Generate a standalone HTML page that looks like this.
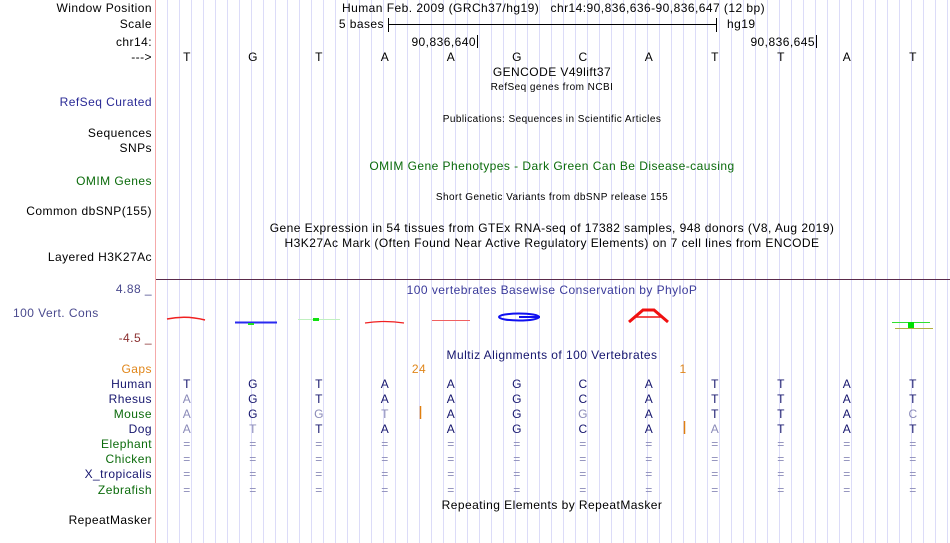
<!DOCTYPE html>
<html><head><meta charset="utf-8"><style>
html,body{margin:0;padding:0;background:#fff}
#c{position:relative;width:950px;height:543px;overflow:hidden;font-family:"Liberation Sans",sans-serif;font-size:12px;letter-spacing:0.45px;color:#000;
background:repeating-linear-gradient(90deg,transparent 0,transparent 11px,#dcdcf8 11px,#dcdcf8 12px);background-position:156px 0}
#lab{position:absolute;left:0;top:0;width:155px;height:543px;background:#fff;border-right:1px solid #f5aaaa}
.t{position:absolute;white-space:nowrap;line-height:14px}
.r{position:absolute;right:798px;white-space:nowrap;line-height:14px;text-align:right}
.c{position:absolute;white-space:nowrap;line-height:14px;transform:translateX(-50%)}
.s{font-size:10px}
.nv{color:#16166e}.gr{color:#0b6b0b}.lt{color:#8a8ab8}.bl{color:#2a2a96}
</style></head><body><div id="c">
<div id="lab"></div>
<div class="r" style="top:1px">Window Position</div>
<div class="r" style="top:17px">Scale</div>
<div class="r" style="top:35px">chr14:</div>
<div class="r" style="top:50px">---&gt;</div>
<div class="r bl" style="top:95px">RefSeq Curated</div>
<div class="r" style="top:126px">Sequences</div>
<div class="r" style="top:141px">SNPs</div>
<div class="r gr" style="top:174px">OMIM Genes</div>
<div class="r" style="top:204px">Common dbSNP(155)</div>
<div class="r" style="top:250px">Layered H3K27Ac</div>
<div class="t" style="left:13px;top:306px;color:#4a4a8e">100 Vert. Cons</div>
<div class="r" style="top:282px;color:#4a4a8e">4.88 _</div>
<div class="r" style="top:331px;color:#8b3030">-4.5 _</div>
<div class="r" style="top:362px;color:#e0861a">Gaps</div>
<div class="r nv" style="top:377px">Human</div>
<div class="r nv" style="top:392px">Rhesus</div>
<div class="r gr" style="top:407px">Mouse</div>
<div class="r nv" style="top:422px">Dog</div>
<div class="r gr" style="top:437px">Elephant</div>
<div class="r gr" style="top:452px">Chicken</div>
<div class="r nv" style="top:467px">X_tropicalis</div>
<div class="r gr" style="top:483px">Zebrafish</div>
<div class="r" style="top:513px">RepeatMasker</div>

<div class="t" style="left:342px;top:1px">Human Feb. 2009 (GRCh37/hg19) &nbsp;&nbsp;chr14:90,836,636-90,836,647 (12 bp)</div>
<div class="t" style="right:566px;top:17px">5 bases</div>
<div class="t" style="left:727px;top:17px">hg19</div>
<div class="t" style="right:474px;top:35px">90,836,640</div>
<div class="t" style="right:135px;top:35px">90,836,645</div>
<svg style="position:absolute;left:0;top:0" width="950" height="543">
<line x1="388" y1="24.5" x2="717" y2="24.5" stroke="#000"/>
<line x1="388.5" y1="18" x2="388.5" y2="32" stroke="#000"/>
<line x1="716.5" y1="18" x2="716.5" y2="32" stroke="#000"/>
<line x1="477.5" y1="35" x2="477.5" y2="48" stroke="#000"/>
<line x1="816.5" y1="35" x2="816.5" y2="48" stroke="#000"/>
<line x1="156" y1="279.5" x2="950" y2="279.5" stroke="#5a2a4a"/>
<path d="M167 319 Q186 315 205 320" stroke="#f02020" stroke-width="1.5" fill="none"/>
<line x1="235" y1="322.5" x2="277" y2="322.5" stroke="#2a2af0" stroke-width="2"/>
<rect x="248" y="323" width="6" height="2" fill="#20e020"/>
<line x1="298" y1="319.5" x2="340" y2="319.5" stroke="#c0f0c0" stroke-width="1"/>
<rect x="313" y="318" width="6" height="3" fill="#10e010"/>
<path d="M365 323 Q384 320 404 323" stroke="#f02020" stroke-width="1.2" fill="none"/>
<line x1="432" y1="320.5" x2="470" y2="320.5" stroke="#f06060" stroke-width="1"/>
<ellipse cx="519" cy="317" rx="20" ry="3.5" stroke="#1010f0" stroke-width="2" fill="none"/>
<line x1="519" y1="317" x2="540" y2="317" stroke="#1010f0" stroke-width="2"/>
<path d="M629 322 L643 310 L654 310 L668 322" stroke="#f01010" stroke-width="3" fill="none"/>
<line x1="636" y1="317" x2="661" y2="317" stroke="#f01010" stroke-width="1.5"/>
<line x1="892" y1="322.5" x2="930" y2="322.5" stroke="#30e030" stroke-width="1"/>
<rect x="908" y="322" width="6" height="6" fill="#00e000"/>
<line x1="895" y1="328.5" x2="933" y2="328.5" stroke="#b0b040" stroke-width="1"/>
<line x1="420.5" y1="406" x2="420.5" y2="419" stroke="#e08010" stroke-width="1.5"/>
<line x1="684.5" y1="421" x2="684.5" y2="434" stroke="#e08010" stroke-width="1.5"/>
</svg>
<div class="c" style="left:552px;top:65px">GENCODE V49lift37</div>
<div class="c s" style="left:552px;top:81px">RefSeq genes from NCBI</div>
<div class="c s" style="left:552px;top:113px">Publications: Sequences in Scientific Articles</div>
<div class="c gr" style="left:552px;top:159px">OMIM Gene Phenotypes - Dark Green Can Be Disease-causing</div>
<div class="c s" style="left:552px;top:191px">Short Genetic Variants from dbSNP release 155</div>
<div class="c" style="left:552px;top:221px">Gene Expression in 54 tissues from GTEx RNA-seq of 17382 samples, 948 donors (V8, Aug 2019)</div>
<div class="c" style="left:552px;top:236px">H3K27Ac Mark (Often Found Near Active Regulatory Elements) on 7 cell lines from ENCODE</div>
<div class="c" style="left:552px;top:283px;color:#3a3a9a">100 vertebrates Basewise Conservation by PhyloP</div>
<div class="c nv" style="left:552px;top:348px">Multiz Alignments of 100 Vertebrates</div>
<div class="c" style="left:419px;top:362px;color:#e0861a">24</div>
<div class="c" style="left:683px;top:362px;color:#e0861a">1</div>
<div class="c" style="left:552px;top:498px">Repeating Elements by RepeatMasker</div>

<div class="c" style="left:187px;top:50px">T</div><div class="c" style="left:253px;top:50px">G</div><div class="c" style="left:319px;top:50px">T</div><div class="c" style="left:385px;top:50px">A</div><div class="c" style="left:451px;top:50px">A</div><div class="c" style="left:517px;top:50px">G</div><div class="c" style="left:583px;top:50px">C</div><div class="c" style="left:649px;top:50px">A</div><div class="c" style="left:715px;top:50px">T</div><div class="c" style="left:781px;top:50px">T</div><div class="c" style="left:847px;top:50px">A</div><div class="c" style="left:913px;top:50px">T</div>

<div class="c nv" style="left:187px;top:377px">T</div><div class="c nv" style="left:253px;top:377px">G</div><div class="c nv" style="left:319px;top:377px">T</div><div class="c nv" style="left:385px;top:377px">A</div><div class="c nv" style="left:451px;top:377px">A</div><div class="c nv" style="left:517px;top:377px">G</div><div class="c nv" style="left:583px;top:377px">C</div><div class="c nv" style="left:649px;top:377px">A</div><div class="c nv" style="left:715px;top:377px">T</div><div class="c nv" style="left:781px;top:377px">T</div><div class="c nv" style="left:847px;top:377px">A</div><div class="c nv" style="left:913px;top:377px">T</div>

<div class="c lt" style="left:187px;top:392px">A</div><div class="c nv" style="left:253px;top:392px">G</div><div class="c nv" style="left:319px;top:392px">T</div><div class="c nv" style="left:385px;top:392px">A</div><div class="c nv" style="left:451px;top:392px">A</div><div class="c nv" style="left:517px;top:392px">G</div><div class="c nv" style="left:583px;top:392px">C</div><div class="c nv" style="left:649px;top:392px">A</div><div class="c nv" style="left:715px;top:392px">T</div><div class="c nv" style="left:781px;top:392px">T</div><div class="c nv" style="left:847px;top:392px">A</div><div class="c nv" style="left:913px;top:392px">T</div>

<div class="c lt" style="left:187px;top:407px">A</div><div class="c nv" style="left:253px;top:407px">G</div><div class="c lt" style="left:319px;top:407px">G</div><div class="c lt" style="left:385px;top:407px">T</div><div class="c nv" style="left:451px;top:407px">A</div><div class="c nv" style="left:517px;top:407px">G</div><div class="c lt" style="left:583px;top:407px">G</div><div class="c nv" style="left:649px;top:407px">A</div><div class="c nv" style="left:715px;top:407px">T</div><div class="c nv" style="left:781px;top:407px">T</div><div class="c nv" style="left:847px;top:407px">A</div><div class="c lt" style="left:913px;top:407px">C</div>

<div class="c lt" style="left:187px;top:422px">A</div><div class="c lt" style="left:253px;top:422px">T</div><div class="c nv" style="left:319px;top:422px">T</div><div class="c nv" style="left:385px;top:422px">A</div><div class="c nv" style="left:451px;top:422px">A</div><div class="c nv" style="left:517px;top:422px">G</div><div class="c nv" style="left:583px;top:422px">C</div><div class="c nv" style="left:649px;top:422px">A</div><div class="c lt" style="left:715px;top:422px">A</div><div class="c nv" style="left:781px;top:422px">T</div><div class="c nv" style="left:847px;top:422px">A</div><div class="c nv" style="left:913px;top:422px">T</div>

<div style="position:absolute;left:0;top:437px">
<div class="c lt" style="left:187px;top:0">=</div><div class="c lt" style="left:253px;top:0">=</div><div class="c lt" style="left:319px;top:0">=</div><div class="c lt" style="left:385px;top:0">=</div><div class="c lt" style="left:451px;top:0">=</div><div class="c lt" style="left:517px;top:0">=</div><div class="c lt" style="left:583px;top:0">=</div><div class="c lt" style="left:649px;top:0">=</div><div class="c lt" style="left:715px;top:0">=</div><div class="c lt" style="left:781px;top:0">=</div><div class="c lt" style="left:847px;top:0">=</div><div class="c lt" style="left:913px;top:0">=</div>
</div>
<div style="position:absolute;left:0;top:452px">
<div class="c lt" style="left:187px;top:0">=</div><div class="c lt" style="left:253px;top:0">=</div><div class="c lt" style="left:319px;top:0">=</div><div class="c lt" style="left:385px;top:0">=</div><div class="c lt" style="left:451px;top:0">=</div><div class="c lt" style="left:517px;top:0">=</div><div class="c lt" style="left:583px;top:0">=</div><div class="c lt" style="left:649px;top:0">=</div><div class="c lt" style="left:715px;top:0">=</div><div class="c lt" style="left:781px;top:0">=</div><div class="c lt" style="left:847px;top:0">=</div><div class="c lt" style="left:913px;top:0">=</div>
</div>
<div style="position:absolute;left:0;top:467px">
<div class="c lt" style="left:187px;top:0">=</div><div class="c lt" style="left:253px;top:0">=</div><div class="c lt" style="left:319px;top:0">=</div><div class="c lt" style="left:385px;top:0">=</div><div class="c lt" style="left:451px;top:0">=</div><div class="c lt" style="left:517px;top:0">=</div><div class="c lt" style="left:583px;top:0">=</div><div class="c lt" style="left:649px;top:0">=</div><div class="c lt" style="left:715px;top:0">=</div><div class="c lt" style="left:781px;top:0">=</div><div class="c lt" style="left:847px;top:0">=</div><div class="c lt" style="left:913px;top:0">=</div>
</div>
<div style="position:absolute;left:0;top:483px">
<div class="c lt" style="left:187px;top:0">=</div><div class="c lt" style="left:253px;top:0">=</div><div class="c lt" style="left:319px;top:0">=</div><div class="c lt" style="left:385px;top:0">=</div><div class="c lt" style="left:451px;top:0">=</div><div class="c lt" style="left:517px;top:0">=</div><div class="c lt" style="left:583px;top:0">=</div><div class="c lt" style="left:649px;top:0">=</div><div class="c lt" style="left:715px;top:0">=</div><div class="c lt" style="left:781px;top:0">=</div><div class="c lt" style="left:847px;top:0">=</div><div class="c lt" style="left:913px;top:0">=</div>
</div>
</div></body></html>
